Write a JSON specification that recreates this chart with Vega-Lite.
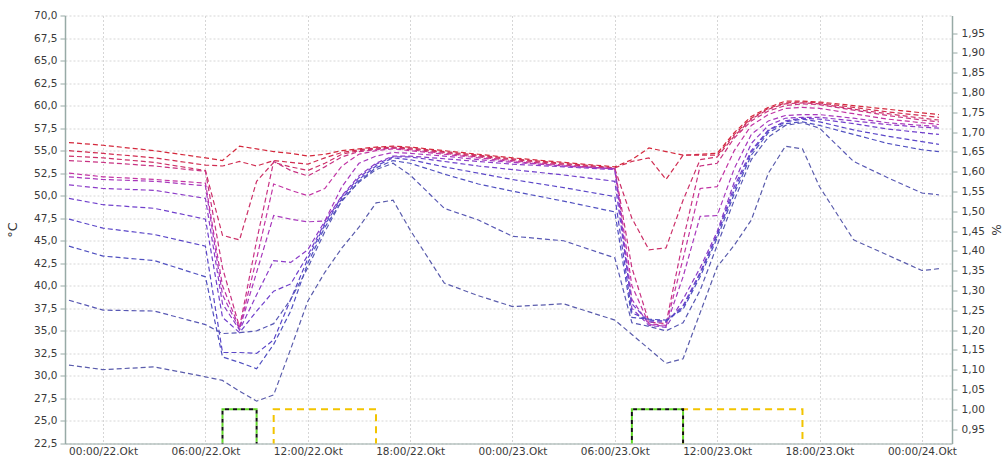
{
  "$schema": "https://vega.github.io/schema/vega-lite/v6.json",
  "width": 887,
  "height": 428,
  "autosize": "none",
  "padding": {"left": 65, "top": 15.5, "right": 54, "bottom": 17.5},
  "background": "white",
  "config": {
    "locale": {"number": {"decimal": ",", "thousands": ".", "grouping": [3], "currency": ["", " €"]}},
    "view": {"stroke": null},
    "font": "DejaVu Sans",
    "axis": {
      "labelFont": "DejaVu Sans",
      "labelFontSize": 10.5,
      "labelColor": "#3a3a3a",
      "titleFont": "DejaVu Sans",
      "titleFontWeight": "normal",
      "titleColor": "#3a3a3a",
      "gridColor": "#d6d6d6",
      "gridDash": [2, 2],
      "domainColor": "#98aaa6",
      "domainWidth": 1.5,
      "tickColor": "#98aaa6"
    }
  },
  "encoding": {
    "x": {
      "field": "t",
      "type": "temporal",
      "scale": {"type": "utc", "domain": [
        {"year": 2023, "month": "Oct", "date": 21, "hours": 21, "minutes": 46, "utc": true},
        {"year": 2023, "month": "Oct", "date": 24, "hours": 1, "minutes": 46, "utc": true}
      ]},
      "axis": {
        "title": null,
        "labelExpr": "utcFormat(datum.value, '%H:%M') + '/' + utcFormat(datum.value, '%d') + '.Okt'",
        "values": [
          {"year": 2023, "month": "Oct", "date": 22, "hours": 0, "utc": true},
          {"year": 2023, "month": "Oct", "date": 22, "hours": 6, "utc": true},
          {"year": 2023, "month": "Oct", "date": 22, "hours": 12, "utc": true},
          {"year": 2023, "month": "Oct", "date": 22, "hours": 18, "utc": true},
          {"year": 2023, "month": "Oct", "date": 23, "hours": 0, "utc": true},
          {"year": 2023, "month": "Oct", "date": 23, "hours": 6, "utc": true},
          {"year": 2023, "month": "Oct", "date": 23, "hours": 12, "utc": true},
          {"year": 2023, "month": "Oct", "date": 23, "hours": 18, "utc": true},
          {"year": 2023, "month": "Oct", "date": 24, "hours": 0, "utc": true}
        ],
        "grid": true,
        "ticks": false,
        "labelPadding": 3,
        "labelFlush": false,
        "labelOverlap": false,
        "domainWidth": 1.2
      }
    }
  },
  "layer": [
    {
      "data": {"values": [
        {"s":"T1","t":"2023-10-21T22:00Z","v":55.9},{"s":"T1","t":"2023-10-22T00:00Z","v":55.6},{"s":"T1","t":"2023-10-22T03:00Z","v":55.0},{"s":"T1","t":"2023-10-22T06:00Z","v":54.2},
        {"s":"T1","t":"2023-10-22T07:00Z","v":53.9},{"s":"T1","t":"2023-10-22T08:00Z","v":55.5},{"s":"T1","t":"2023-10-22T09:00Z","v":55.2},{"s":"T1","t":"2023-10-22T10:00Z","v":54.9},
        {"s":"T1","t":"2023-10-22T11:00Z","v":54.7},{"s":"T1","t":"2023-10-22T12:00Z","v":54.4},{"s":"T1","t":"2023-10-22T13:00Z","v":54.6},{"s":"T1","t":"2023-10-22T14:00Z","v":55.0},
        {"s":"T1","t":"2023-10-22T15:00Z","v":55.2},{"s":"T1","t":"2023-10-22T16:00Z","v":55.4},{"s":"T1","t":"2023-10-22T17:00Z","v":55.5},{"s":"T1","t":"2023-10-22T18:00Z","v":55.4},
        {"s":"T1","t":"2023-10-22T20:00Z","v":55.0},{"s":"T1","t":"2023-10-22T22:00Z","v":54.6},{"s":"T1","t":"2023-10-23T00:00Z","v":54.2},{"s":"T1","t":"2023-10-23T03:00Z","v":53.7},
        {"s":"T1","t":"2023-10-23T06:00Z","v":53.2},{"s":"T1","t":"2023-10-23T07:00Z","v":54.0},{"s":"T1","t":"2023-10-23T08:00Z","v":55.3},{"s":"T1","t":"2023-10-23T09:00Z","v":54.9},
        {"s":"T1","t":"2023-10-23T10:00Z","v":54.5},{"s":"T1","t":"2023-10-23T11:00Z","v":54.6},{"s":"T1","t":"2023-10-23T12:00Z","v":54.7},{"s":"T1","t":"2023-10-23T13:00Z","v":57.0},
        {"s":"T1","t":"2023-10-23T14:00Z","v":58.8},{"s":"T1","t":"2023-10-23T15:00Z","v":59.8},{"s":"T1","t":"2023-10-23T16:00Z","v":60.5},{"s":"T1","t":"2023-10-23T17:00Z","v":60.5},
        {"s":"T1","t":"2023-10-23T18:00Z","v":60.4},{"s":"T1","t":"2023-10-23T20:00Z","v":60.0},{"s":"T1","t":"2023-10-23T22:00Z","v":59.6},{"s":"T1","t":"2023-10-24T00:00Z","v":59.2},
        {"s":"T1","t":"2023-10-24T01:00Z","v":59.0},

        {"s":"T2","t":"2023-10-21T22:00Z","v":55.0},{"s":"T2","t":"2023-10-22T00:00Z","v":54.7},{"s":"T2","t":"2023-10-22T03:00Z","v":54.2},{"s":"T2","t":"2023-10-22T06:00Z","v":53.4},
        {"s":"T2","t":"2023-10-22T07:00Z","v":53.3},{"s":"T2","t":"2023-10-22T08:00Z","v":53.8},{"s":"T2","t":"2023-10-22T09:00Z","v":53.3},{"s":"T2","t":"2023-10-22T10:00Z","v":53.9},
        {"s":"T2","t":"2023-10-22T11:00Z","v":53.7},{"s":"T2","t":"2023-10-22T12:00Z","v":53.5},{"s":"T2","t":"2023-10-22T13:00Z","v":54.2},{"s":"T2","t":"2023-10-22T14:00Z","v":54.8},
        {"s":"T2","t":"2023-10-22T15:00Z","v":55.1},{"s":"T2","t":"2023-10-22T16:00Z","v":55.3},{"s":"T2","t":"2023-10-22T17:00Z","v":55.4},{"s":"T2","t":"2023-10-22T18:00Z","v":55.3},
        {"s":"T2","t":"2023-10-22T20:00Z","v":54.9},{"s":"T2","t":"2023-10-22T22:00Z","v":54.5},{"s":"T2","t":"2023-10-23T00:00Z","v":54.1},{"s":"T2","t":"2023-10-23T03:00Z","v":53.6},
        {"s":"T2","t":"2023-10-23T06:00Z","v":53.1},{"s":"T2","t":"2023-10-23T07:00Z","v":53.8},{"s":"T2","t":"2023-10-23T08:00Z","v":54.2},{"s":"T2","t":"2023-10-23T09:00Z","v":51.8},
        {"s":"T2","t":"2023-10-23T10:00Z","v":54.5},{"s":"T2","t":"2023-10-23T11:00Z","v":54.5},{"s":"T2","t":"2023-10-23T12:00Z","v":54.5},{"s":"T2","t":"2023-10-23T13:00Z","v":56.8},
        {"s":"T2","t":"2023-10-23T14:00Z","v":58.6},{"s":"T2","t":"2023-10-23T15:00Z","v":59.7},{"s":"T2","t":"2023-10-23T16:00Z","v":60.3},{"s":"T2","t":"2023-10-23T17:00Z","v":60.4},
        {"s":"T2","t":"2023-10-23T18:00Z","v":60.3},{"s":"T2","t":"2023-10-23T20:00Z","v":59.8},{"s":"T2","t":"2023-10-23T22:00Z","v":59.3},{"s":"T2","t":"2023-10-24T00:00Z","v":58.9},
        {"s":"T2","t":"2023-10-24T01:00Z","v":58.7},

        {"s":"T3","t":"2023-10-21T22:00Z","v":54.4},{"s":"T3","t":"2023-10-22T00:00Z","v":54.2},{"s":"T3","t":"2023-10-22T03:00Z","v":53.7},{"s":"T3","t":"2023-10-22T06:00Z","v":52.8},
        {"s":"T3","t":"2023-10-22T07:00Z","v":45.6},{"s":"T3","t":"2023-10-22T08:00Z","v":45.1},{"s":"T3","t":"2023-10-22T09:00Z","v":51.6},{"s":"T3","t":"2023-10-22T10:00Z","v":53.7},
        {"s":"T3","t":"2023-10-22T11:00Z","v":53.2},{"s":"T3","t":"2023-10-22T12:00Z","v":52.8},{"s":"T3","t":"2023-10-22T13:00Z","v":53.6},{"s":"T3","t":"2023-10-22T14:00Z","v":54.6},
        {"s":"T3","t":"2023-10-22T15:00Z","v":55.0},{"s":"T3","t":"2023-10-22T16:00Z","v":55.2},{"s":"T3","t":"2023-10-22T17:00Z","v":55.3},{"s":"T3","t":"2023-10-22T18:00Z","v":55.2},
        {"s":"T3","t":"2023-10-22T20:00Z","v":54.8},{"s":"T3","t":"2023-10-22T22:00Z","v":54.4},{"s":"T3","t":"2023-10-23T00:00Z","v":54.0},{"s":"T3","t":"2023-10-23T03:00Z","v":53.5},
        {"s":"T3","t":"2023-10-23T06:00Z","v":53.0},{"s":"T3","t":"2023-10-23T07:00Z","v":47.5},{"s":"T3","t":"2023-10-23T08:00Z","v":44.0},{"s":"T3","t":"2023-10-23T09:00Z","v":44.2},
        {"s":"T3","t":"2023-10-23T10:00Z","v":49.5},{"s":"T3","t":"2023-10-23T11:00Z","v":54.0},{"s":"T3","t":"2023-10-23T12:00Z","v":54.3},{"s":"T3","t":"2023-10-23T13:00Z","v":56.6},
        {"s":"T3","t":"2023-10-23T14:00Z","v":58.5},{"s":"T3","t":"2023-10-23T15:00Z","v":59.6},{"s":"T3","t":"2023-10-23T16:00Z","v":60.2},{"s":"T3","t":"2023-10-23T17:00Z","v":60.3},
        {"s":"T3","t":"2023-10-23T18:00Z","v":60.2},{"s":"T3","t":"2023-10-23T20:00Z","v":59.6},{"s":"T3","t":"2023-10-23T22:00Z","v":59.1},{"s":"T3","t":"2023-10-24T00:00Z","v":58.6},
        {"s":"T3","t":"2023-10-24T01:00Z","v":58.4},

        {"s":"T4","t":"2023-10-21T22:00Z","v":53.9},{"s":"T4","t":"2023-10-22T00:00Z","v":53.7},{"s":"T4","t":"2023-10-22T03:00Z","v":53.3},{"s":"T4","t":"2023-10-22T06:00Z","v":52.7},
        {"s":"T4","t":"2023-10-22T07:00Z","v":42.0},{"s":"T4","t":"2023-10-22T08:00Z","v":35.4},{"s":"T4","t":"2023-10-22T09:00Z","v":45.0},{"s":"T4","t":"2023-10-22T10:00Z","v":53.8},
        {"s":"T4","t":"2023-10-22T11:00Z","v":52.8},{"s":"T4","t":"2023-10-22T12:00Z","v":52.2},{"s":"T4","t":"2023-10-22T13:00Z","v":53.2},{"s":"T4","t":"2023-10-22T14:00Z","v":54.3},
        {"s":"T4","t":"2023-10-22T15:00Z","v":54.9},{"s":"T4","t":"2023-10-22T16:00Z","v":55.1},{"s":"T4","t":"2023-10-22T17:00Z","v":55.3},{"s":"T4","t":"2023-10-22T18:00Z","v":55.1},
        {"s":"T4","t":"2023-10-22T20:00Z","v":54.7},{"s":"T4","t":"2023-10-22T22:00Z","v":54.3},{"s":"T4","t":"2023-10-23T00:00Z","v":53.9},{"s":"T4","t":"2023-10-23T03:00Z","v":53.4},
        {"s":"T4","t":"2023-10-23T06:00Z","v":53.0},{"s":"T4","t":"2023-10-23T07:00Z","v":42.0},{"s":"T4","t":"2023-10-23T08:00Z","v":36.0},{"s":"T4","t":"2023-10-23T09:00Z","v":35.8},
        {"s":"T4","t":"2023-10-23T10:00Z","v":45.0},{"s":"T4","t":"2023-10-23T11:00Z","v":53.3},{"s":"T4","t":"2023-10-23T12:00Z","v":53.6},{"s":"T4","t":"2023-10-23T13:00Z","v":56.4},
        {"s":"T4","t":"2023-10-23T14:00Z","v":58.3},{"s":"T4","t":"2023-10-23T15:00Z","v":59.4},{"s":"T4","t":"2023-10-23T16:00Z","v":60.0},{"s":"T4","t":"2023-10-23T17:00Z","v":60.2},
        {"s":"T4","t":"2023-10-23T18:00Z","v":60.1},{"s":"T4","t":"2023-10-23T20:00Z","v":59.5},{"s":"T4","t":"2023-10-23T22:00Z","v":58.9},{"s":"T4","t":"2023-10-24T00:00Z","v":58.4},
        {"s":"T4","t":"2023-10-24T01:00Z","v":58.2},

        {"s":"T5","t":"2023-10-21T22:00Z","v":52.5},{"s":"T5","t":"2023-10-22T00:00Z","v":52.1},{"s":"T5","t":"2023-10-22T03:00Z","v":51.8},{"s":"T5","t":"2023-10-22T06:00Z","v":51.4},
        {"s":"T5","t":"2023-10-22T07:00Z","v":40.0},{"s":"T5","t":"2023-10-22T08:00Z","v":35.3},{"s":"T5","t":"2023-10-22T09:00Z","v":43.0},{"s":"T5","t":"2023-10-22T10:00Z","v":51.3},
        {"s":"T5","t":"2023-10-22T11:00Z","v":50.6},{"s":"T5","t":"2023-10-22T12:00Z","v":50.0},{"s":"T5","t":"2023-10-22T13:00Z","v":50.8},{"s":"T5","t":"2023-10-22T14:00Z","v":53.3},
        {"s":"T5","t":"2023-10-22T15:00Z","v":54.6},{"s":"T5","t":"2023-10-22T16:00Z","v":55.0},{"s":"T5","t":"2023-10-22T17:00Z","v":55.2},{"s":"T5","t":"2023-10-22T18:00Z","v":55.0},
        {"s":"T5","t":"2023-10-22T20:00Z","v":54.6},{"s":"T5","t":"2023-10-22T22:00Z","v":54.2},{"s":"T5","t":"2023-10-23T00:00Z","v":53.8},{"s":"T5","t":"2023-10-23T03:00Z","v":53.3},
        {"s":"T5","t":"2023-10-23T06:00Z","v":53.0},{"s":"T5","t":"2023-10-23T07:00Z","v":40.0},{"s":"T5","t":"2023-10-23T08:00Z","v":35.8},{"s":"T5","t":"2023-10-23T09:00Z","v":35.6},
        {"s":"T5","t":"2023-10-23T10:00Z","v":43.0},{"s":"T5","t":"2023-10-23T11:00Z","v":50.8},{"s":"T5","t":"2023-10-23T12:00Z","v":51.0},{"s":"T5","t":"2023-10-23T13:00Z","v":55.0},
        {"s":"T5","t":"2023-10-23T14:00Z","v":57.8},{"s":"T5","t":"2023-10-23T15:00Z","v":59.0},{"s":"T5","t":"2023-10-23T16:00Z","v":59.7},{"s":"T5","t":"2023-10-23T17:00Z","v":59.8},
        {"s":"T5","t":"2023-10-23T18:00Z","v":59.7},{"s":"T5","t":"2023-10-23T20:00Z","v":59.1},{"s":"T5","t":"2023-10-23T22:00Z","v":58.5},{"s":"T5","t":"2023-10-24T00:00Z","v":58.1},
        {"s":"T5","t":"2023-10-24T01:00Z","v":57.9},

        {"s":"T6","t":"2023-10-21T22:00Z","v":52.1},{"s":"T6","t":"2023-10-22T00:00Z","v":51.8},{"s":"T6","t":"2023-10-22T03:00Z","v":51.6},{"s":"T6","t":"2023-10-22T06:00Z","v":51.1},
        {"s":"T6","t":"2023-10-22T07:00Z","v":39.0},{"s":"T6","t":"2023-10-22T08:00Z","v":35.2},{"s":"T6","t":"2023-10-22T09:00Z","v":41.5},{"s":"T6","t":"2023-10-22T10:00Z","v":47.8},
        {"s":"T6","t":"2023-10-22T11:00Z","v":47.4},{"s":"T6","t":"2023-10-22T12:00Z","v":47.1},{"s":"T6","t":"2023-10-22T13:00Z","v":47.2},{"s":"T6","t":"2023-10-22T14:00Z","v":51.0},
        {"s":"T6","t":"2023-10-22T15:00Z","v":53.6},{"s":"T6","t":"2023-10-22T16:00Z","v":54.4},{"s":"T6","t":"2023-10-22T17:00Z","v":54.8},{"s":"T6","t":"2023-10-22T18:00Z","v":54.7},
        {"s":"T6","t":"2023-10-22T20:00Z","v":54.4},{"s":"T6","t":"2023-10-22T22:00Z","v":54.0},{"s":"T6","t":"2023-10-23T00:00Z","v":53.7},{"s":"T6","t":"2023-10-23T03:00Z","v":53.3},
        {"s":"T6","t":"2023-10-23T06:00Z","v":53.0},{"s":"T6","t":"2023-10-23T07:00Z","v":38.5},{"s":"T6","t":"2023-10-23T08:00Z","v":35.7},{"s":"T6","t":"2023-10-23T09:00Z","v":35.5},
        {"s":"T6","t":"2023-10-23T10:00Z","v":41.0},{"s":"T6","t":"2023-10-23T11:00Z","v":47.7},{"s":"T6","t":"2023-10-23T12:00Z","v":47.8},{"s":"T6","t":"2023-10-23T13:00Z","v":53.0},
        {"s":"T6","t":"2023-10-23T14:00Z","v":56.8},{"s":"T6","t":"2023-10-23T15:00Z","v":58.3},{"s":"T6","t":"2023-10-23T16:00Z","v":58.9},{"s":"T6","t":"2023-10-23T17:00Z","v":59.0},
        {"s":"T6","t":"2023-10-23T18:00Z","v":59.0},{"s":"T6","t":"2023-10-23T20:00Z","v":58.6},{"s":"T6","t":"2023-10-23T22:00Z","v":58.1},{"s":"T6","t":"2023-10-24T00:00Z","v":57.8},
        {"s":"T6","t":"2023-10-24T01:00Z","v":57.7},

        {"s":"T7","t":"2023-10-21T22:00Z","v":51.2},{"s":"T7","t":"2023-10-22T00:00Z","v":50.8},{"s":"T7","t":"2023-10-22T03:00Z","v":50.6},{"s":"T7","t":"2023-10-22T06:00Z","v":49.7},
        {"s":"T7","t":"2023-10-22T07:00Z","v":38.0},{"s":"T7","t":"2023-10-22T08:00Z","v":35.1},{"s":"T7","t":"2023-10-22T09:00Z","v":39.0},{"s":"T7","t":"2023-10-22T10:00Z","v":42.8},
        {"s":"T7","t":"2023-10-22T11:00Z","v":42.6},{"s":"T7","t":"2023-10-22T12:00Z","v":44.0},{"s":"T7","t":"2023-10-22T13:00Z","v":47.2},{"s":"T7","t":"2023-10-22T14:00Z","v":50.0},
        {"s":"T7","t":"2023-10-22T15:00Z","v":52.2},{"s":"T7","t":"2023-10-22T16:00Z","v":53.6},{"s":"T7","t":"2023-10-22T17:00Z","v":54.4},{"s":"T7","t":"2023-10-22T18:00Z","v":54.4},
        {"s":"T7","t":"2023-10-22T20:00Z","v":54.1},{"s":"T7","t":"2023-10-22T22:00Z","v":53.8},{"s":"T7","t":"2023-10-23T00:00Z","v":53.5},{"s":"T7","t":"2023-10-23T03:00Z","v":53.2},
        {"s":"T7","t":"2023-10-23T06:00Z","v":52.9},{"s":"T7","t":"2023-10-23T07:00Z","v":37.5},{"s":"T7","t":"2023-10-23T08:00Z","v":35.6},{"s":"T7","t":"2023-10-23T09:00Z","v":35.4},
        {"s":"T7","t":"2023-10-23T10:00Z","v":38.5},{"s":"T7","t":"2023-10-23T11:00Z","v":42.0},{"s":"T7","t":"2023-10-23T12:00Z","v":46.0},{"s":"T7","t":"2023-10-23T13:00Z","v":51.5},
        {"s":"T7","t":"2023-10-23T14:00Z","v":55.8},{"s":"T7","t":"2023-10-23T15:00Z","v":57.8},{"s":"T7","t":"2023-10-23T16:00Z","v":58.6},{"s":"T7","t":"2023-10-23T17:00Z","v":58.7},
        {"s":"T7","t":"2023-10-23T18:00Z","v":58.7},{"s":"T7","t":"2023-10-23T20:00Z","v":58.3},{"s":"T7","t":"2023-10-23T22:00Z","v":57.9},{"s":"T7","t":"2023-10-24T00:00Z","v":57.6},
        {"s":"T7","t":"2023-10-24T01:00Z","v":57.5},

        {"s":"T8","t":"2023-10-21T22:00Z","v":49.7},{"s":"T8","t":"2023-10-22T00:00Z","v":49.0},{"s":"T8","t":"2023-10-22T03:00Z","v":48.6},{"s":"T8","t":"2023-10-22T06:00Z","v":47.4},
        {"s":"T8","t":"2023-10-22T07:00Z","v":36.5},{"s":"T8","t":"2023-10-22T08:00Z","v":34.8},{"s":"T8","t":"2023-10-22T09:00Z","v":37.2},{"s":"T8","t":"2023-10-22T10:00Z","v":39.4},
        {"s":"T8","t":"2023-10-22T11:00Z","v":40.2},{"s":"T8","t":"2023-10-22T12:00Z","v":43.4},{"s":"T8","t":"2023-10-22T13:00Z","v":47.0},{"s":"T8","t":"2023-10-22T14:00Z","v":49.9},
        {"s":"T8","t":"2023-10-22T15:00Z","v":52.0},{"s":"T8","t":"2023-10-22T16:00Z","v":53.5},{"s":"T8","t":"2023-10-22T17:00Z","v":54.3},{"s":"T8","t":"2023-10-22T18:00Z","v":54.3},
        {"s":"T8","t":"2023-10-22T20:00Z","v":53.8},{"s":"T8","t":"2023-10-22T22:00Z","v":53.3},{"s":"T8","t":"2023-10-23T00:00Z","v":52.9},{"s":"T8","t":"2023-10-23T03:00Z","v":52.3},
        {"s":"T8","t":"2023-10-23T06:00Z","v":51.6},{"s":"T8","t":"2023-10-23T07:00Z","v":38.0},{"s":"T8","t":"2023-10-23T08:00Z","v":36.0},{"s":"T8","t":"2023-10-23T09:00Z","v":36.0},
        {"s":"T8","t":"2023-10-23T10:00Z","v":37.8},{"s":"T8","t":"2023-10-23T11:00Z","v":41.5},{"s":"T8","t":"2023-10-23T12:00Z","v":45.8},{"s":"T8","t":"2023-10-23T13:00Z","v":51.0},
        {"s":"T8","t":"2023-10-23T14:00Z","v":55.0},{"s":"T8","t":"2023-10-23T15:00Z","v":57.3},{"s":"T8","t":"2023-10-23T16:00Z","v":58.3},{"s":"T8","t":"2023-10-23T17:00Z","v":58.6},
        {"s":"T8","t":"2023-10-23T18:00Z","v":58.5},{"s":"T8","t":"2023-10-23T20:00Z","v":58.0},{"s":"T8","t":"2023-10-23T22:00Z","v":57.4},{"s":"T8","t":"2023-10-24T00:00Z","v":57.0},
        {"s":"T8","t":"2023-10-24T01:00Z","v":56.8},

        {"s":"T9","t":"2023-10-21T22:00Z","v":47.4},{"s":"T9","t":"2023-10-22T00:00Z","v":46.4},{"s":"T9","t":"2023-10-22T03:00Z","v":45.7},{"s":"T9","t":"2023-10-22T06:00Z","v":44.4},
        {"s":"T9","t":"2023-10-22T07:00Z","v":32.6},{"s":"T9","t":"2023-10-22T08:00Z","v":32.6},{"s":"T9","t":"2023-10-22T09:00Z","v":32.5},{"s":"T9","t":"2023-10-22T10:00Z","v":34.0},
        {"s":"T9","t":"2023-10-22T11:00Z","v":38.5},{"s":"T9","t":"2023-10-22T12:00Z","v":43.0},{"s":"T9","t":"2023-10-22T13:00Z","v":46.8},{"s":"T9","t":"2023-10-22T14:00Z","v":49.7},
        {"s":"T9","t":"2023-10-22T15:00Z","v":51.8},{"s":"T9","t":"2023-10-22T16:00Z","v":53.3},{"s":"T9","t":"2023-10-22T17:00Z","v":54.2},{"s":"T9","t":"2023-10-22T18:00Z","v":54.0},
        {"s":"T9","t":"2023-10-22T20:00Z","v":53.2},{"s":"T9","t":"2023-10-22T22:00Z","v":52.5},{"s":"T9","t":"2023-10-23T00:00Z","v":51.8},{"s":"T9","t":"2023-10-23T03:00Z","v":50.9},
        {"s":"T9","t":"2023-10-23T06:00Z","v":49.9},{"s":"T9","t":"2023-10-23T07:00Z","v":37.0},{"s":"T9","t":"2023-10-23T08:00Z","v":36.2},{"s":"T9","t":"2023-10-23T09:00Z","v":36.1},
        {"s":"T9","t":"2023-10-23T10:00Z","v":37.6},{"s":"T9","t":"2023-10-23T11:00Z","v":41.3},{"s":"T9","t":"2023-10-23T12:00Z","v":45.6},{"s":"T9","t":"2023-10-23T13:00Z","v":50.6},
        {"s":"T9","t":"2023-10-23T14:00Z","v":54.8},{"s":"T9","t":"2023-10-23T15:00Z","v":57.2},{"s":"T9","t":"2023-10-23T16:00Z","v":58.2},{"s":"T9","t":"2023-10-23T17:00Z","v":58.5},
        {"s":"T9","t":"2023-10-23T18:00Z","v":58.2},{"s":"T9","t":"2023-10-23T20:00Z","v":57.3},{"s":"T9","t":"2023-10-23T22:00Z","v":56.6},{"s":"T9","t":"2023-10-24T00:00Z","v":56.0},
        {"s":"T9","t":"2023-10-24T01:00Z","v":55.7},

        {"s":"T10","t":"2023-10-21T22:00Z","v":44.4},{"s":"T10","t":"2023-10-22T00:00Z","v":43.3},{"s":"T10","t":"2023-10-22T03:00Z","v":42.8},{"s":"T10","t":"2023-10-22T06:00Z","v":41.0},
        {"s":"T10","t":"2023-10-22T07:00Z","v":32.1},{"s":"T10","t":"2023-10-22T08:00Z","v":31.5},{"s":"T10","t":"2023-10-22T09:00Z","v":30.8},{"s":"T10","t":"2023-10-22T10:00Z","v":33.5},
        {"s":"T10","t":"2023-10-22T11:00Z","v":37.2},{"s":"T10","t":"2023-10-22T12:00Z","v":42.5},{"s":"T10","t":"2023-10-22T13:00Z","v":46.5},{"s":"T10","t":"2023-10-22T14:00Z","v":49.4},
        {"s":"T10","t":"2023-10-22T15:00Z","v":51.6},{"s":"T10","t":"2023-10-22T16:00Z","v":53.1},{"s":"T10","t":"2023-10-22T17:00Z","v":53.9},{"s":"T10","t":"2023-10-22T18:00Z","v":53.6},
        {"s":"T10","t":"2023-10-22T20:00Z","v":52.4},{"s":"T10","t":"2023-10-22T22:00Z","v":51.3},{"s":"T10","t":"2023-10-23T00:00Z","v":50.5},{"s":"T10","t":"2023-10-23T03:00Z","v":49.4},
        {"s":"T10","t":"2023-10-23T06:00Z","v":48.2},{"s":"T10","t":"2023-10-23T07:00Z","v":36.5},{"s":"T10","t":"2023-10-23T08:00Z","v":36.3},{"s":"T10","t":"2023-10-23T09:00Z","v":36.2},
        {"s":"T10","t":"2023-10-23T10:00Z","v":37.4},{"s":"T10","t":"2023-10-23T11:00Z","v":41.0},{"s":"T10","t":"2023-10-23T12:00Z","v":45.3},{"s":"T10","t":"2023-10-23T13:00Z","v":50.2},
        {"s":"T10","t":"2023-10-23T14:00Z","v":54.5},{"s":"T10","t":"2023-10-23T15:00Z","v":57.0},{"s":"T10","t":"2023-10-23T16:00Z","v":58.0},{"s":"T10","t":"2023-10-23T17:00Z","v":58.2},
        {"s":"T10","t":"2023-10-23T18:00Z","v":57.8},{"s":"T10","t":"2023-10-23T20:00Z","v":56.8},{"s":"T10","t":"2023-10-23T22:00Z","v":55.8},{"s":"T10","t":"2023-10-24T00:00Z","v":55.1},
        {"s":"T10","t":"2023-10-24T01:00Z","v":54.9},

        {"s":"T11","t":"2023-10-21T22:00Z","v":38.4},{"s":"T11","t":"2023-10-22T00:00Z","v":37.3},{"s":"T11","t":"2023-10-22T03:00Z","v":37.2},{"s":"T11","t":"2023-10-22T06:00Z","v":35.7},
        {"s":"T11","t":"2023-10-22T07:00Z","v":34.7},{"s":"T11","t":"2023-10-22T08:00Z","v":34.8},{"s":"T11","t":"2023-10-22T09:00Z","v":35.0},{"s":"T11","t":"2023-10-22T10:00Z","v":35.8},
        {"s":"T11","t":"2023-10-22T11:00Z","v":38.5},{"s":"T11","t":"2023-10-22T12:00Z","v":42.0},{"s":"T11","t":"2023-10-22T13:00Z","v":46.0},{"s":"T11","t":"2023-10-22T14:00Z","v":49.5},
        {"s":"T11","t":"2023-10-22T15:00Z","v":51.5},{"s":"T11","t":"2023-10-22T16:00Z","v":52.9},{"s":"T11","t":"2023-10-22T17:00Z","v":53.6},{"s":"T11","t":"2023-10-22T18:00Z","v":52.3},
        {"s":"T11","t":"2023-10-22T20:00Z","v":48.6},{"s":"T11","t":"2023-10-22T22:00Z","v":47.3},{"s":"T11","t":"2023-10-23T00:00Z","v":45.5},{"s":"T11","t":"2023-10-23T03:00Z","v":45.0},
        {"s":"T11","t":"2023-10-23T06:00Z","v":43.1},{"s":"T11","t":"2023-10-23T07:00Z","v":35.9},{"s":"T11","t":"2023-10-23T08:00Z","v":35.5},{"s":"T11","t":"2023-10-23T09:00Z","v":35.0},
        {"s":"T11","t":"2023-10-23T10:00Z","v":35.9},{"s":"T11","t":"2023-10-23T11:00Z","v":39.5},{"s":"T11","t":"2023-10-23T12:00Z","v":44.5},{"s":"T11","t":"2023-10-23T13:00Z","v":49.5},
        {"s":"T11","t":"2023-10-23T14:00Z","v":54.0},{"s":"T11","t":"2023-10-23T15:00Z","v":56.5},{"s":"T11","t":"2023-10-23T16:00Z","v":57.8},{"s":"T11","t":"2023-10-23T17:00Z","v":58.1},
        {"s":"T11","t":"2023-10-23T18:00Z","v":57.5},{"s":"T11","t":"2023-10-23T20:00Z","v":53.8},{"s":"T11","t":"2023-10-23T22:00Z","v":52.0},{"s":"T11","t":"2023-10-24T00:00Z","v":50.3},
        {"s":"T11","t":"2023-10-24T01:00Z","v":50.1},

        {"s":"T12","t":"2023-10-21T22:00Z","v":31.2},{"s":"T12","t":"2023-10-22T00:00Z","v":30.7},{"s":"T12","t":"2023-10-22T03:00Z","v":31.0},{"s":"T12","t":"2023-10-22T06:00Z","v":29.9},
        {"s":"T12","t":"2023-10-22T07:00Z","v":29.5},{"s":"T12","t":"2023-10-22T08:00Z","v":28.3},{"s":"T12","t":"2023-10-22T09:00Z","v":27.2},{"s":"T12","t":"2023-10-22T10:00Z","v":27.9},
        {"s":"T12","t":"2023-10-22T11:00Z","v":33.0},{"s":"T12","t":"2023-10-22T12:00Z","v":38.3},{"s":"T12","t":"2023-10-22T13:00Z","v":41.5},{"s":"T12","t":"2023-10-22T14:00Z","v":44.2},
        {"s":"T12","t":"2023-10-22T15:00Z","v":46.5},{"s":"T12","t":"2023-10-22T16:00Z","v":49.2},{"s":"T12","t":"2023-10-22T17:00Z","v":49.5},{"s":"T12","t":"2023-10-22T18:00Z","v":46.2},
        {"s":"T12","t":"2023-10-22T20:00Z","v":40.3},{"s":"T12","t":"2023-10-22T22:00Z","v":38.9},{"s":"T12","t":"2023-10-23T00:00Z","v":37.7},{"s":"T12","t":"2023-10-23T03:00Z","v":38.0},
        {"s":"T12","t":"2023-10-23T06:00Z","v":36.2},{"s":"T12","t":"2023-10-23T07:00Z","v":34.6},{"s":"T12","t":"2023-10-23T08:00Z","v":33.0},{"s":"T12","t":"2023-10-23T09:00Z","v":31.4},
        {"s":"T12","t":"2023-10-23T10:00Z","v":31.9},{"s":"T12","t":"2023-10-23T11:00Z","v":37.0},{"s":"T12","t":"2023-10-23T12:00Z","v":42.1},{"s":"T12","t":"2023-10-23T13:00Z","v":44.5},
        {"s":"T12","t":"2023-10-23T14:00Z","v":47.3},{"s":"T12","t":"2023-10-23T15:00Z","v":52.5},{"s":"T12","t":"2023-10-23T16:00Z","v":55.5},{"s":"T12","t":"2023-10-23T17:00Z","v":55.2},
        {"s":"T12","t":"2023-10-23T18:00Z","v":51.0},{"s":"T12","t":"2023-10-23T20:00Z","v":45.1},{"s":"T12","t":"2023-10-23T22:00Z","v":43.4},{"s":"T12","t":"2023-10-24T00:00Z","v":41.7},
        {"s":"T12","t":"2023-10-24T01:00Z","v":41.9}
      ]},
      "mark": {"type": "line", "strokeDash": [5, 3], "strokeWidth": 1.2, "clip": true},
      "encoding": {
        "y": {
          "field": "v",
          "type": "quantitative",
          "scale": {"domain": [22.5, 70], "nice": false, "zero": false},
          "axis": {
            "title": "°C",
            "titleFontSize": 13,
            "titlePadding": 14,
            "values": [22.5, 25, 27.5, 30, 32.5, 35, 37.5, 40, 42.5, 45, 47.5, 50, 52.5, 55, 57.5, 60, 62.5, 65, 67.5, 70],
            "format": ".1f",
            "grid": true,
            "tickSize": 5,
            "labelPadding": 3
          }
        },
        "color": {
          "field": "s",
          "type": "nominal",
          "legend": null,
          "scale": {
            "domain": ["T1", "T2", "T3", "T4", "T5", "T6", "T7", "T8", "T9", "T10", "T11", "T12"],
            "range": ["#d4283c", "#d02c50", "#cc3068", "#c83282", "#c234a4", "#a838bc", "#8c3cc8", "#7040cc", "#5a46c8", "#5050c0", "#5858b4", "#5a5cac"]
          }
        }
      }
    },
    {
      "data": {"values": [
        {"k": "gelb", "t": "2023-10-21T22:00Z", "on": 0},
        {"k": "gelb", "t": "2023-10-22T10:00Z", "on": 1},
        {"k": "gelb", "t": "2023-10-22T16:00Z", "on": 0},
        {"k": "gelb", "t": "2023-10-23T10:00Z", "on": 1},
        {"k": "gelb", "t": "2023-10-23T17:00Z", "on": 0},
        {"k": "gelb", "t": "2023-10-24T01:00Z", "on": 0},
        {"k": "schwarz", "t": "2023-10-21T22:00Z", "on": 0},
        {"k": "schwarz", "t": "2023-10-22T07:00Z", "on": 1},
        {"k": "schwarz", "t": "2023-10-22T09:00Z", "on": 0},
        {"k": "schwarz", "t": "2023-10-23T07:00Z", "on": 1},
        {"k": "schwarz", "t": "2023-10-23T10:00Z", "on": 0},
        {"k": "schwarz", "t": "2023-10-24T01:00Z", "on": 0},
        {"k": "gruen", "t": "2023-10-21T22:00Z", "on": 0},
        {"k": "gruen", "t": "2023-10-22T07:00Z", "on": 1},
        {"k": "gruen", "t": "2023-10-22T09:00Z", "on": 0},
        {"k": "gruen", "t": "2023-10-23T07:00Z", "on": 1},
        {"k": "gruen", "t": "2023-10-23T10:00Z", "on": 0},
        {"k": "gruen", "t": "2023-10-24T01:00Z", "on": 0}
      ]},
      "encoding": {
        "y": {
          "field": "on",
          "type": "quantitative",
          "scale": {"domain": [0.9136, 1.9945], "nice": false, "zero": false},
          "axis": {
            "orient": "right",
            "title": "%",
            "titleFontSize": 12,
            "titlePadding": 4,
            "values": [0.95, 1.0, 1.05, 1.1, 1.15, 1.2, 1.25, 1.3, 1.35, 1.4, 1.45, 1.5, 1.55, 1.6, 1.65, 1.7, 1.75, 1.8, 1.85, 1.9, 1.95],
            "format": ".2f",
            "grid": false,
            "tickSize": 5,
            "labelPadding": 4
          }
        }
      },
      "layer": [
        {
          "transform": [{"filter": "datum.k === 'gelb'"}],
          "mark": {"type": "line", "interpolate": "step-after", "color": "#f2c400", "strokeDash": [7, 5], "strokeWidth": 2, "clip": true}
        },
        {
          "transform": [{"filter": "datum.k === 'schwarz'"}],
          "mark": {"type": "line", "interpolate": "step-after", "color": "#111111", "strokeDash": [4, 4], "strokeWidth": 2, "clip": true}
        },
        {
          "transform": [{"filter": "datum.k === 'gruen'"}],
          "mark": {"type": "line", "interpolate": "step-after", "color": "#62d82a", "strokeDash": [4, 4], "strokeDashOffset": 4, "strokeWidth": 2, "clip": true}
        }
      ]
    }
  ],
  "resolve": {"scale": {"y": "independent"}, "axis": {"y": "independent"}}
}
